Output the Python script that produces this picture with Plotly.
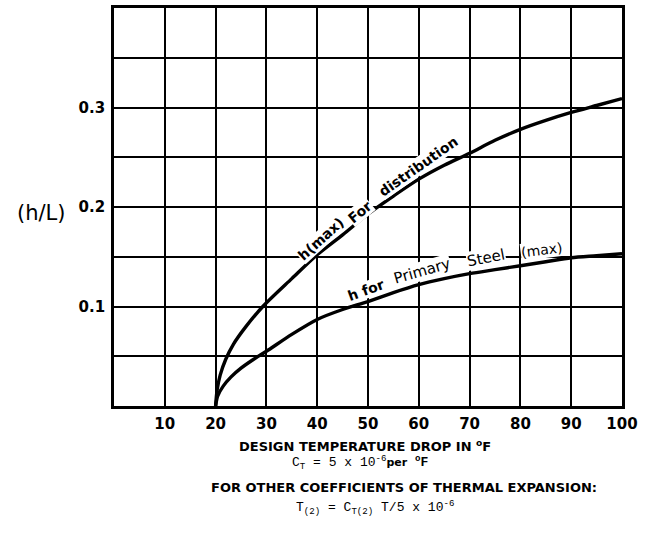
import plotly.graph_objects as go

# Design temperature drop (deg F) and h/L ratio for the two design curves
temp_dist = [20, 20.3, 20.9, 22, 23.5, 26, 29.3, 35, 40, 45, 50, 55, 60, 65, 70, 75, 80, 85, 90, 95, 100]
hl_dist = [0, 0.016, 0.031, 0.047, 0.062, 0.08, 0.1, 0.128, 0.152, 0.172, 0.193, 0.211, 0.228,
           0.242, 0.254, 0.267, 0.278, 0.287, 0.295, 0.302, 0.309]

temp_steel = [20, 20.4, 21.5, 23, 25, 27.5, 30, 35, 40, 45, 50, 55, 60, 65, 70, 75, 80, 85, 90, 95, 100]
hl_steel = [0, 0.01, 0.02, 0.029, 0.038, 0.047, 0.055, 0.072, 0.087, 0.097, 0.105, 0.114, 0.122,
            0.128, 0.133, 0.137, 0.141, 0.145, 0.149, 0.151, 0.153]

x_tick_vals = [10, 20, 30, 40, 50, 60, 70, 80, 90, 100]
x_tick_text = ["10", "20", "30", "40", "50", "60", "70", "80", "90", "100"]
y_tick_vals = [0.05, 0.1, 0.15, 0.2, 0.25, 0.3, 0.35]
y_tick_text = ["", "0.1", "", "0.2", "", "0.3", ""]

SANS = "DejaVu Sans"
MONO = "Liberation Mono"

fig = go.Figure()
for xs, ys in ((temp_dist, hl_dist), (temp_steel, hl_steel)):
    fig.add_trace(go.Scatter(x=xs, y=ys, mode="lines",
                             line=dict(color="black", width=3.4, shape="spline", smoothing=0.8),
                             hoverinfo="skip", showlegend=False))

def curve_label(text, x, y, angle, bold=True, size=14):
    fig.add_annotation(x=x, y=y, xref="x", yref="y", text=f"<b>{text}</b>" if bold else text,
                       textangle=angle, showarrow=False, bgcolor="white", borderpad=0,
                       xanchor="center", yanchor="middle",
                       font=dict(family=SANS, size=size, color="black"))

curve_label("h(max)", 40.7, 0.168, -42)
curve_label("For", 48.4, 0.195, -40)
curve_label("distribution", 60.0, 0.241, -35)
curve_label("h for", 49.6, 0.117, -20)
curve_label("Primary", 60.6, 0.136, -16, bold=False, size=15)
curve_label("Steel", 73.2, 0.149, -11, bold=False, size=15)
curve_label("(max)", 84.1, 0.157, -7, bold=False, size=14)

# y-axis title
fig.add_annotation(x=-0.143, y=0.486, xref="paper", yref="paper", text="(h/L)", showarrow=False,
                   xanchor="center", yanchor="middle",
                   font=dict(family=SANS, size=21, color="black"))

# notes under the x axis
def note(text, cx, cy, family, size):
    fig.add_annotation(x=(cx - 114) / 508, y=(406 - cy) / 401, xref="paper", yref="paper",
                       text=text, showarrow=False, xanchor="center", yanchor="middle",
                       font=dict(family=family, size=size, color="black"))

note("<b>DESIGN TEMPERATURE DROP IN <sup>o</sup>F</b>", 365, 446, SANS, 13)
note("C<sub>T</sub> = 5 x 10<sup>-6</sup><b><span style='font-family:DejaVu Sans;font-size:11px'>per</span> <sup>o</sup>F</b>",
     360, 463, MONO, 13)
note("<b>FOR OTHER COEFFICIENTS OF THERMAL EXPANSION:</b>", 404, 488, SANS, 13)
note("T<sub>(2)</sub> = C<sub>T(2)</sub> T/5 x 10<sup>-6</sup>", 375, 508, MONO, 13)

axis_style = dict(showgrid=True, gridcolor="black", gridwidth=1.6, zeroline=False,
                  showline=True, linecolor="black", linewidth=2.6, mirror=True, ticks="",
                  tickfont=dict(family=SANS, size=15, color="black", weight="bold"))
fig.update_xaxes(range=[0, 100], tickvals=x_tick_vals, ticktext=x_tick_text,
                 ticklabelstandoff=2, **axis_style)
fig.update_yaxes(range=[0, 0.4], tickvals=y_tick_vals, ticktext=y_tick_text,
                 ticklabelstandoff=3, **axis_style)

fig.update_layout(width=645, height=544, autosize=False,
                  margin=dict(l=114, r=23, t=5, b=138),
                  paper_bgcolor="white", plot_bgcolor="white",
                  font=dict(family=SANS, color="black"))

fig.write_html("out.html")
